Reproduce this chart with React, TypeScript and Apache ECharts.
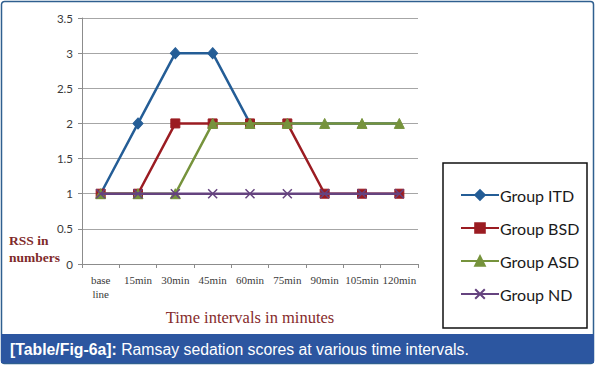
import React, { useEffect, useRef } from "react";
import * as echarts from "echarts";

const categories = ["base\nline", "15min", "30min", "45min", "60min", "75min", "90min", "105min", "120min"];
const itd = [1, 2, 3, 3, 2, 2, 2, 2, 2];
const bsd = [1, 1, 2, 2, 2, 2, 1, 1, 1];
const asd = [1, 1, 1, 2, 2, 2, 2, 2, 2];
const nd = [1, 1, 1, 1, 1, 1, 1, 1, 1];
const seriesNames = ["Group ITD", "Group BSD", "Group ASD", "Group ND"];
const yTitle = "RSS in\nnumbers";
const xTitle = "Time intervals in minutes";
const captionBold = "[Table/Fig-6a]:";
const captionText = " Ramsay sedation scores at various time intervals.";

export default function App() {
  const ref = useRef<HTMLDivElement>(null);
  useEffect(() => {
    document.body.style.margin = "0";
    const chart = echarts.init(ref.current!, null, { renderer: "svg" });
    const serif = "'Liberation Serif', 'DejaVu Serif', serif";
    const sans = "Lato, 'Open Sans', sans-serif";
    // ITD markers are hidden where a later-drawn series sits on the same value (occluded in the original)
    const itdData = itd.map((v, i) =>
      v === bsd[i] || v === asd[i] || v === nd[i] ? { value: v, symbol: "none" } : v
    );
    const mk = (name: string, data: any[], color: string, symbol: string, size: any, z: number, extra: any = {}) => ({
      name,
      type: "line",
      data,
      z,
      symbol,
      symbolSize: size,
      symbolKeepAspect: true,
      showSymbol: true,
      lineStyle: { color, width: 2.5 },
      itemStyle: { color, borderColor: color, borderWidth: 1, ...extra },
    });
    chart.setOption({
      animation: false,
      backgroundColor: "#ffffff",
      grid: { left: 82, right: 178, top: 18, bottom: 103 },
      xAxis: {
        type: "category",
        data: categories,
        boundaryGap: true,
        axisLine: { show: true, lineStyle: { color: "#8c8c8c", width: 1 } },
        axisTick: { show: true, length: 4, lineStyle: { color: "#8c8c8c" } },
        axisLabel: { color: "#3a3a3a", fontFamily: serif, fontSize: 11, margin: 9, lineHeight: 14, interval: 0 },
        splitLine: { show: false },
      },
      yAxis: {
        type: "value",
        min: 0,
        max: 3.5,
        interval: 0.5,
        axisLine: { show: true, lineStyle: { color: "#8c8c8c", width: 1 } },
        axisTick: { show: true, length: 4, lineStyle: { color: "#8c8c8c" } },
        axisLabel: { color: "#3a3a3a", fontFamily: sans, fontSize: 11.5, margin: 9 },
        splitLine: { show: true, lineStyle: { color: "#a6a6a6", width: 1 } },
      },
      legend: {
        orient: "vertical",
        left: 455,
        top: 182,
        itemWidth: 38,
        itemHeight: 12,
        itemGap: 17,
        data: seriesNames,
        textStyle: { fontFamily: sans, fontSize: 16, color: "#1a1a1a", lineHeight: 16, padding: [0, 0, 0, -4] },
      },
      series: [
        mk(seriesNames[0], itdData, "#245d96", "diamond", [10, 11], 1),
        mk(seriesNames[1], bsd, "#9b1c22", "rect", 9, 2),
        mk(seriesNames[2], asd, "#76933c", "triangle", 10, 3),
        mk(seriesNames[3], nd, "#65437f", "path://M0,0L10,10M10,0L0,10", 9, 4, { borderWidth: 1.5, color: "#65437f" }),
      ],
      graphic: [
        { type: "rect", shape: { x: 1.5, y: 1.5, width: 592, height: 362, r: 3 }, style: { fill: "none", stroke: "#2f5f8f", lineWidth: 1.5 }, z: 10 },
        { type: "rect", shape: { x: 1, y: 334, width: 593, height: 29 }, style: { fill: "#2c56a0" }, z: 11 },
        {
          type: "text",
          x: 10,
          y: 349,
          z: 12,
          style: {
            text: "{b|" + captionBold + "}{r|" + captionText + "}",
            verticalAlign: "middle",
            rich: {
              b: { fill: "#ffffff", fontFamily: "'Liberation Sans', Arial, sans-serif", fontSize: 15.8, fontWeight: "bold" },
              r: { fill: "#ffffff", fontFamily: "'Liberation Sans', Arial, sans-serif", fontSize: 15.8 },
            },
          },
        },
        { type: "rect", shape: { x: 443, y: 163, width: 144, height: 165 }, style: { fill: "none", stroke: "#111111", lineWidth: 1.5 }, z: 10 },
        {
          type: "text",
          x: 9,
          y: 232,
          style: { text: yTitle, fill: "#7f2a2a", fontFamily: serif, fontSize: 13.5, fontWeight: "bold", lineHeight: 17 },
        },
        {
          type: "text",
          x: 250,
          y: 317,
          style: { text: xTitle, fill: "#862b2b", fontFamily: serif, fontSize: 16.5, align: "center", verticalAlign: "middle" },
        },
      ],
    });
    return () => chart.dispose();
  }, []);
  return <div ref={ref} style={{ width: 596, height: 367, position: "absolute", left: 0, top: 0 }} />;
}
